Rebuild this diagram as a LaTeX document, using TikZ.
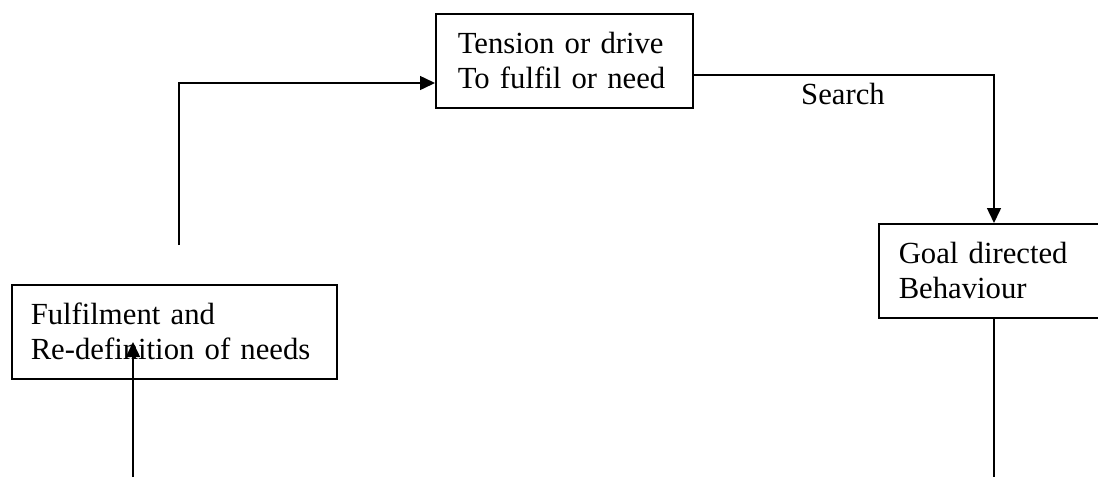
\documentclass[tikz,border=0pt]{standalone}
\usepackage{fontspec}
\setmainfont{Liberation Serif}
\usetikzlibrary{arrows.meta,calc}
\begin{document}
\begin{tikzpicture}[x=1pt,y=-1pt,
  every node/.style={font=\fontsize{30.7}{35}\selectfont},
  box/.style={draw, line width=1.5pt, anchor=north west, align=left,
    inner ysep=0pt, inner xsep=#1},
  conn/.style={line width=1.5pt},
  tip/.style={conn, -{Triangle[length=15pt,width=14pt]}}]
  \useasboundingbox (0,0) rectangle (1098,477);
  \clip (0,0) rectangle (1098,477);

  % boxes
  \node[box=22pt, text width=213pt, minimum height=94pt] (tension) at (435,13)
    {Tension or drive\\To fulfil or need};
  \node[box=20pt, text width=210pt, minimum height=94pt] (goal) at (878,223)
    {Goal directed\\Behaviour};
  \node[box=19pt, text width=287pt, minimum height=94pt] (fulfil) at (11,284)
    {Fulfilment and\\Re-definition of needs};

  % connector ends
  \coordinate (leftbot) at (179,245);
  \coordinate (leftcorner) at (179,83);
  \coordinate (rightcorner) at (994,75);
  \coordinate (goalbot) at (994,477);
  \coordinate (fulbot) at (133,477);
  \coordinate (fultip) at (133,342);

  % cycle connectors
  \draw[tip] (leftbot) -- (leftcorner) -- (tension.west |- leftcorner);
  \draw[tip] (tension.east |- rightcorner) -- (rightcorner) -- (goal.north -| rightcorner);
  \draw[conn] (goal.south -| goalbot) -- (goalbot);
  \draw[tip] (fulbot) -- (fultip);

  \node (search) at (843,94) {Search};
\end{tikzpicture}
\end{document}
